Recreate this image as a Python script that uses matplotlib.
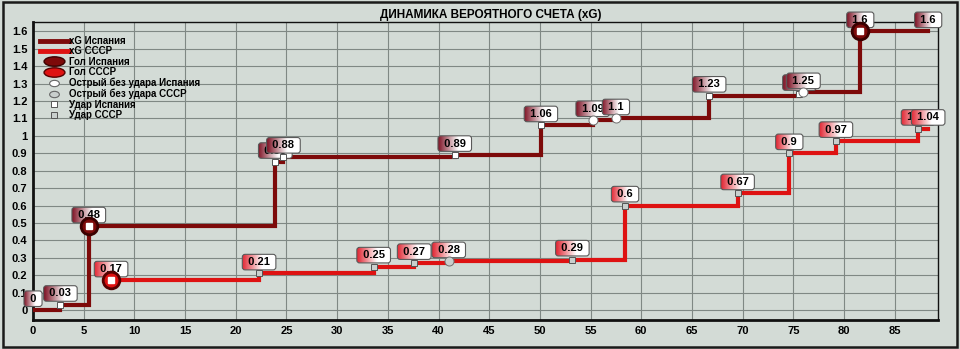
import numpy as np
import matplotlib.pyplot as plt
from matplotlib.path import Path
from matplotlib.lines import Line2D
from matplotlib.patches import Rectangle

plt.rcParams['font.family'] = ['Liberation Sans', 'DejaVu Sans']

# Испания: минута, накопленный xG, тип события
esp_min = [0, 2.7, 5.5, 23.9, 24.7, 41.6, 50.1, 55.2, 57.5, 66.7, 75.6, 76.0, 81.6]
esp_xg = [0, 0.03, 0.48, 0.85, 0.88, 0.89, 1.06, 1.09, 1.10, 1.23, 1.24, 1.25, 1.60]
esp_type = ['start', 'shot', 'goal', 'shot', 'shot', 'shot', 'shot', 'sharp', 'sharp',
            'shot', 'shot', 'sharp', 'goal']

# СССР
ussr_min = [7.7, 22.3, 33.6, 37.6, 41.0, 53.2, 58.4, 69.5, 74.6, 79.2, 87.3]
ussr_xg = [0.17, 0.21, 0.25, 0.27, 0.28, 0.29, 0.60, 0.67, 0.90, 0.97, 1.04]
ussr_type = ['goal', 'shot', 'shot', 'shot', 'sharp', 'shot', 'shot', 'shot', 'shot',
             'shot', 'shot']

end_min = 88.3

xticks = list(range(0, 90, 5))
yticks = [i / 10 for i in range(17)]

legend_labels = ['xG Испания', 'xG СССР', 'Гол Испания', 'Гол СССР',
                 'Острый без удара Испания', 'Острый без удара СССР',
                 'Удар Испания', 'Удар СССР']

BG = '#d3dbd6'
ESP = '#7d0a0a'
ESP_DARK = '#3a0000'
USSR = '#de1212'
USSR_DARK = '#560000'

fig = plt.figure(figsize=(9.6, 3.49), dpi=100, facecolor=BG)
ax = fig.add_axes([0.0344, 0.083, 0.943, 0.855], facecolor=BG)
ax.set_xlim(0, 89.3)
ax.set_ylim(-0.057, 1.655)
ax.set_xticks(xticks)
ax.set_yticks(yticks)
ax.set_yticklabels([f'{v:g}' for v in yticks])
ax.tick_params(length=0, pad=4, labelsize=8)
for lab in ax.get_xticklabels() + ax.get_yticklabels():
    lab.set_fontweight('bold')
ax.grid(True, color='#7f8884', lw=0.8)
ax.set_axisbelow(True)
for side, sp in ax.spines.items():
    sp.set_color('#111111')
    sp.set_linewidth(2 if side in ('bottom', 'left') else 1)

fig.text(0.511, 0.958, 'ДИНАМИКА ВЕРОЯТНОГО СЧЕТА (xG)', ha='center', va='center',
         fontsize=8.5, fontweight='bold')
fig.patches.append(Rectangle((0.003, 0.006), 0.994, 0.988, transform=fig.transFigure,
                             fill=False, ec='#1a1a1a', lw=1.8))


def draw_team(mins, xg, types, col, dark, small_fc, grad_col):
    xs = mins + [end_min]
    ys = xg + [xg[-1]]
    ax.plot(xs, ys, drawstyle='steps-post', color=col, lw=3, zorder=3,
            solid_joinstyle='miter')
    tags = []
    z = 4
    for m, v in zip(xs, ys):
        t = ax.annotate(f' {v:g} ', (m, v), xytext=(0, 4.6), textcoords='offset points',
                        ha='center', va='bottom', fontsize=8, fontweight='bold',
                        bbox=dict(boxstyle='round,pad=0.25', fc='none', ec='#5a5a5a', lw=0.8),
                        zorder=z, annotation_clip=False)
        tags.append((t, grad_col))
        z += 0.01
    for m, v, kind in zip(mins, xg, types):
        if kind == 'goal':
            ax.plot(m, v, 'o', ms=12, mfc=col, mec=dark, mew=2, zorder=10, clip_on=False)
            ax.plot(m, v, 's', ms=3.8, mfc='white', mec='white', zorder=11, clip_on=False)
        elif kind == 'shot':
            ax.plot(m, v, 's', ms=4.5, mfc=small_fc, mec='#555555', mew=0.7, zorder=10)
        elif kind == 'sharp':
            ax.plot(m, v, 'o', ms=6.5, mfc=small_fc, mec='#707070', mew=0.7, zorder=10)
    return tags


tags = draw_team(esp_min, esp_xg, esp_type, ESP, ESP_DARK, 'white', (0.5, 0.08, 0.15))
tags += draw_team(ussr_min, ussr_xg, ussr_type, USSR, USSR_DARK, '#c9cfcd', (0.88, 0.15, 0.2))

# легенда
circ = Path.unit_circle()
ellipse = Path(circ.vertices * [1, 0.45], circ.codes)
oval = Path(circ.vertices * [1, 0.65], circ.codes)
handles = [
    Line2D([], [], color=ESP, lw=3.5),
    Line2D([], [], color=USSR, lw=3.5),
    Line2D([], [], ls='none', marker=ellipse, ms=15, mfc=ESP, mec=ESP_DARK, mew=1),
    Line2D([], [], ls='none', marker=ellipse, ms=15, mfc=USSR, mec=USSR_DARK, mew=1),
    Line2D([], [], ls='none', marker=oval, ms=7, mfc='white', mec='#666666', mew=0.8),
    Line2D([], [], ls='none', marker=oval, ms=7, mfc='#c9cfcd', mec='#666666', mew=0.8),
    Line2D([], [], ls='none', marker='s', ms=5, mfc='white', mec='#555555', mew=0.7),
    Line2D([], [], ls='none', marker='s', ms=5, mfc='#c9cfcd', mec='#555555', mew=0.7),
]
ax.legend(handles, legend_labels, loc='upper left', bbox_to_anchor=(0.0, 0.975),
          frameon=False, prop=dict(weight='bold', size=7), handlelength=3.0,
          labelspacing=0.05, handletextpad=0.05, borderaxespad=0.3)

# градиентная заливка подписей
fig.canvas.draw()
a = np.clip(1 - np.linspace(0, 1, 64) / 0.6, 0, 1)[None, :, None]
inv = ax.transData.inverted()
for t, gc in tags:
    img = np.repeat(np.ones(3) * (1 - a) + np.array(gc) * a, 2, axis=0)
    p = t.get_bbox_patch()
    bb = p.get_window_extent()
    (x0, y0), (x1, y1) = inv.transform([(bb.x0, bb.y0), (bb.x1, bb.y1)])
    im = ax.imshow(img, extent=(x0, x1, y0, y1), aspect='auto', interpolation='bilinear',
                   zorder=t.get_zorder() - 0.001)
    im.set_clip_path(p)
    im.set_clip_box(fig.bbox)

ax.set_xlim(0, 89.3)
ax.set_ylim(-0.057, 1.655)

fig.savefig('out.png', dpi=100, facecolor=BG)
